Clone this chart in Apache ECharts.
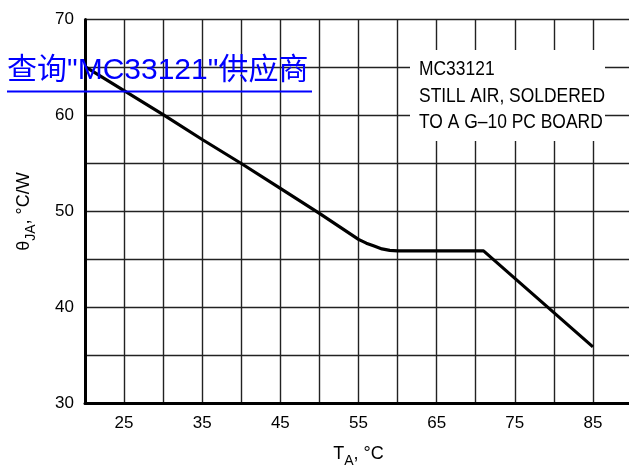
<!DOCTYPE html>
<html>
<head>
<meta charset="utf-8">
<script src="https://cdn.jsdelivr.net/npm/echarts@6/dist/echarts.min.js"></script>
<style>
html,body{margin:0;padding:0;background:#fff;}
#chart{width:629px;height:466px;}
</style>
</head>
<body>
<div id="chart"></div>
<script>
const temps = [20, 25, 30, 35, 40, 45, 50, 55, 56, 57, 58, 59, 60, 71, 85];
const theta = [65.1, 62.6, 60.1, 57.5, 55.0, 52.4, 49.8, 47.1, 46.7, 46.4, 46.1, 45.95, 45.9, 45.9, 35.9];
const xTickLabels = ['25', '35', '45', '55', '65', '75', '85'];
const yTickLabels = ['30', '40', '50', '60', '70'];
const noteLines = ['MC33121', 'STILL AIR, SOLDERED', 'TO A G\u201310 PC BOARD'];
const watermark = '查询"MC33121"供应商';

const FONT = "'Liberation Sans', Arial, sans-serif";
const chart = echarts.init(document.getElementById('chart'), null, {renderer: 'canvas'});

const nameRich = {
  m: {fontFamily: FONT, fontSize: 18, color: '#000', lineHeight: 20, verticalAlign: 'top'},
  s: {fontFamily: FONT, fontSize: 14, color: '#000', lineHeight: 14, padding: [9, 0, 0, 0], verticalAlign: 'top'}
};

const option = {
  animation: false,
  backgroundColor: '#ffffff',
  grid: {left: 85, right: -3, top: 19.5, bottom: 62.5, containLabel: false, outerBoundsMode: 'none'},
  xAxis: {
    type: 'value', min: 20, max: 90, interval: 5,
    name: '{m|T}{s|A}{m|, °C}',
    nameLocation: 'middle', nameGap: 42,
    nameTextStyle: {rich: nameRich},
    axisLine: {show: true, onZero: false, lineStyle: {color: '#000', width: 3}},
    axisTick: {show: false},
    splitLine: {show: true, lineStyle: {color: '#222', width: 1.4}},
    axisLabel: {
      fontFamily: FONT, fontSize: 17, color: '#000', margin: 11,
      showMinLabel: true, showMaxLabel: true,
      formatter: v => xTickLabels.includes(String(v)) ? String(v) : ''
    }
  },
  yAxis: {
    type: 'value', min: 30, max: 70, interval: 5,
    name: '{m|θ}{s|JA}{m|, °C/W}',
    nameLocation: 'middle', nameGap: 50, nameRotate: 90,
    nameTextStyle: {rich: nameRich},
    axisLine: {show: true, onZero: false, lineStyle: {color: '#000', width: 3}},
    axisTick: {show: false},
    splitLine: {show: true, lineStyle: {color: '#222', width: 1.4}},
    axisLabel: {
      fontFamily: FONT, fontSize: 17, color: '#000', margin: 11,
      formatter: v => yTickLabels.includes(String(v)) ? String(v) : ''
    }
  },
  series: [{
    type: 'line',
    data: temps.map((t, i) => [t, theta[i]]),
    showSymbol: false,
    smooth: false,
    lineStyle: {color: '#000', width: 3.2},
    z: 5
  }],
  graphic: [
    {
      type: 'rect', left: 410, top: 50, z: 10,
      shape: {width: 195, height: 91},
      style: {fill: '#ffffff'}
    },
    {
      type: 'text', x: 419, y: 56, scaleX: 0.83, z: 11,
      style: {
        text: noteLines.join('\n'),
        font: '21px ' + FONT,
        fill: '#000',
        lineHeight: 26.5,
        align: 'left',
        verticalAlign: 'top'
      }
    },
    {
      type: 'text', left: 7, top: 56, z: 20,
      style: {
        text: watermark,
        font: "30px 'Liberation Sans', Arial, 'Noto Sans CJK SC', sans-serif",
        fill: '#0000ff'
      }
    },
    {
      type: 'rect', left: 7, top: 90.5, z: 20,
      shape: {width: 305, height: 2},
      style: {fill: '#0000ff'}
    }
  ]
};
chart.setOption(option);
</script>
</body>
</html>
